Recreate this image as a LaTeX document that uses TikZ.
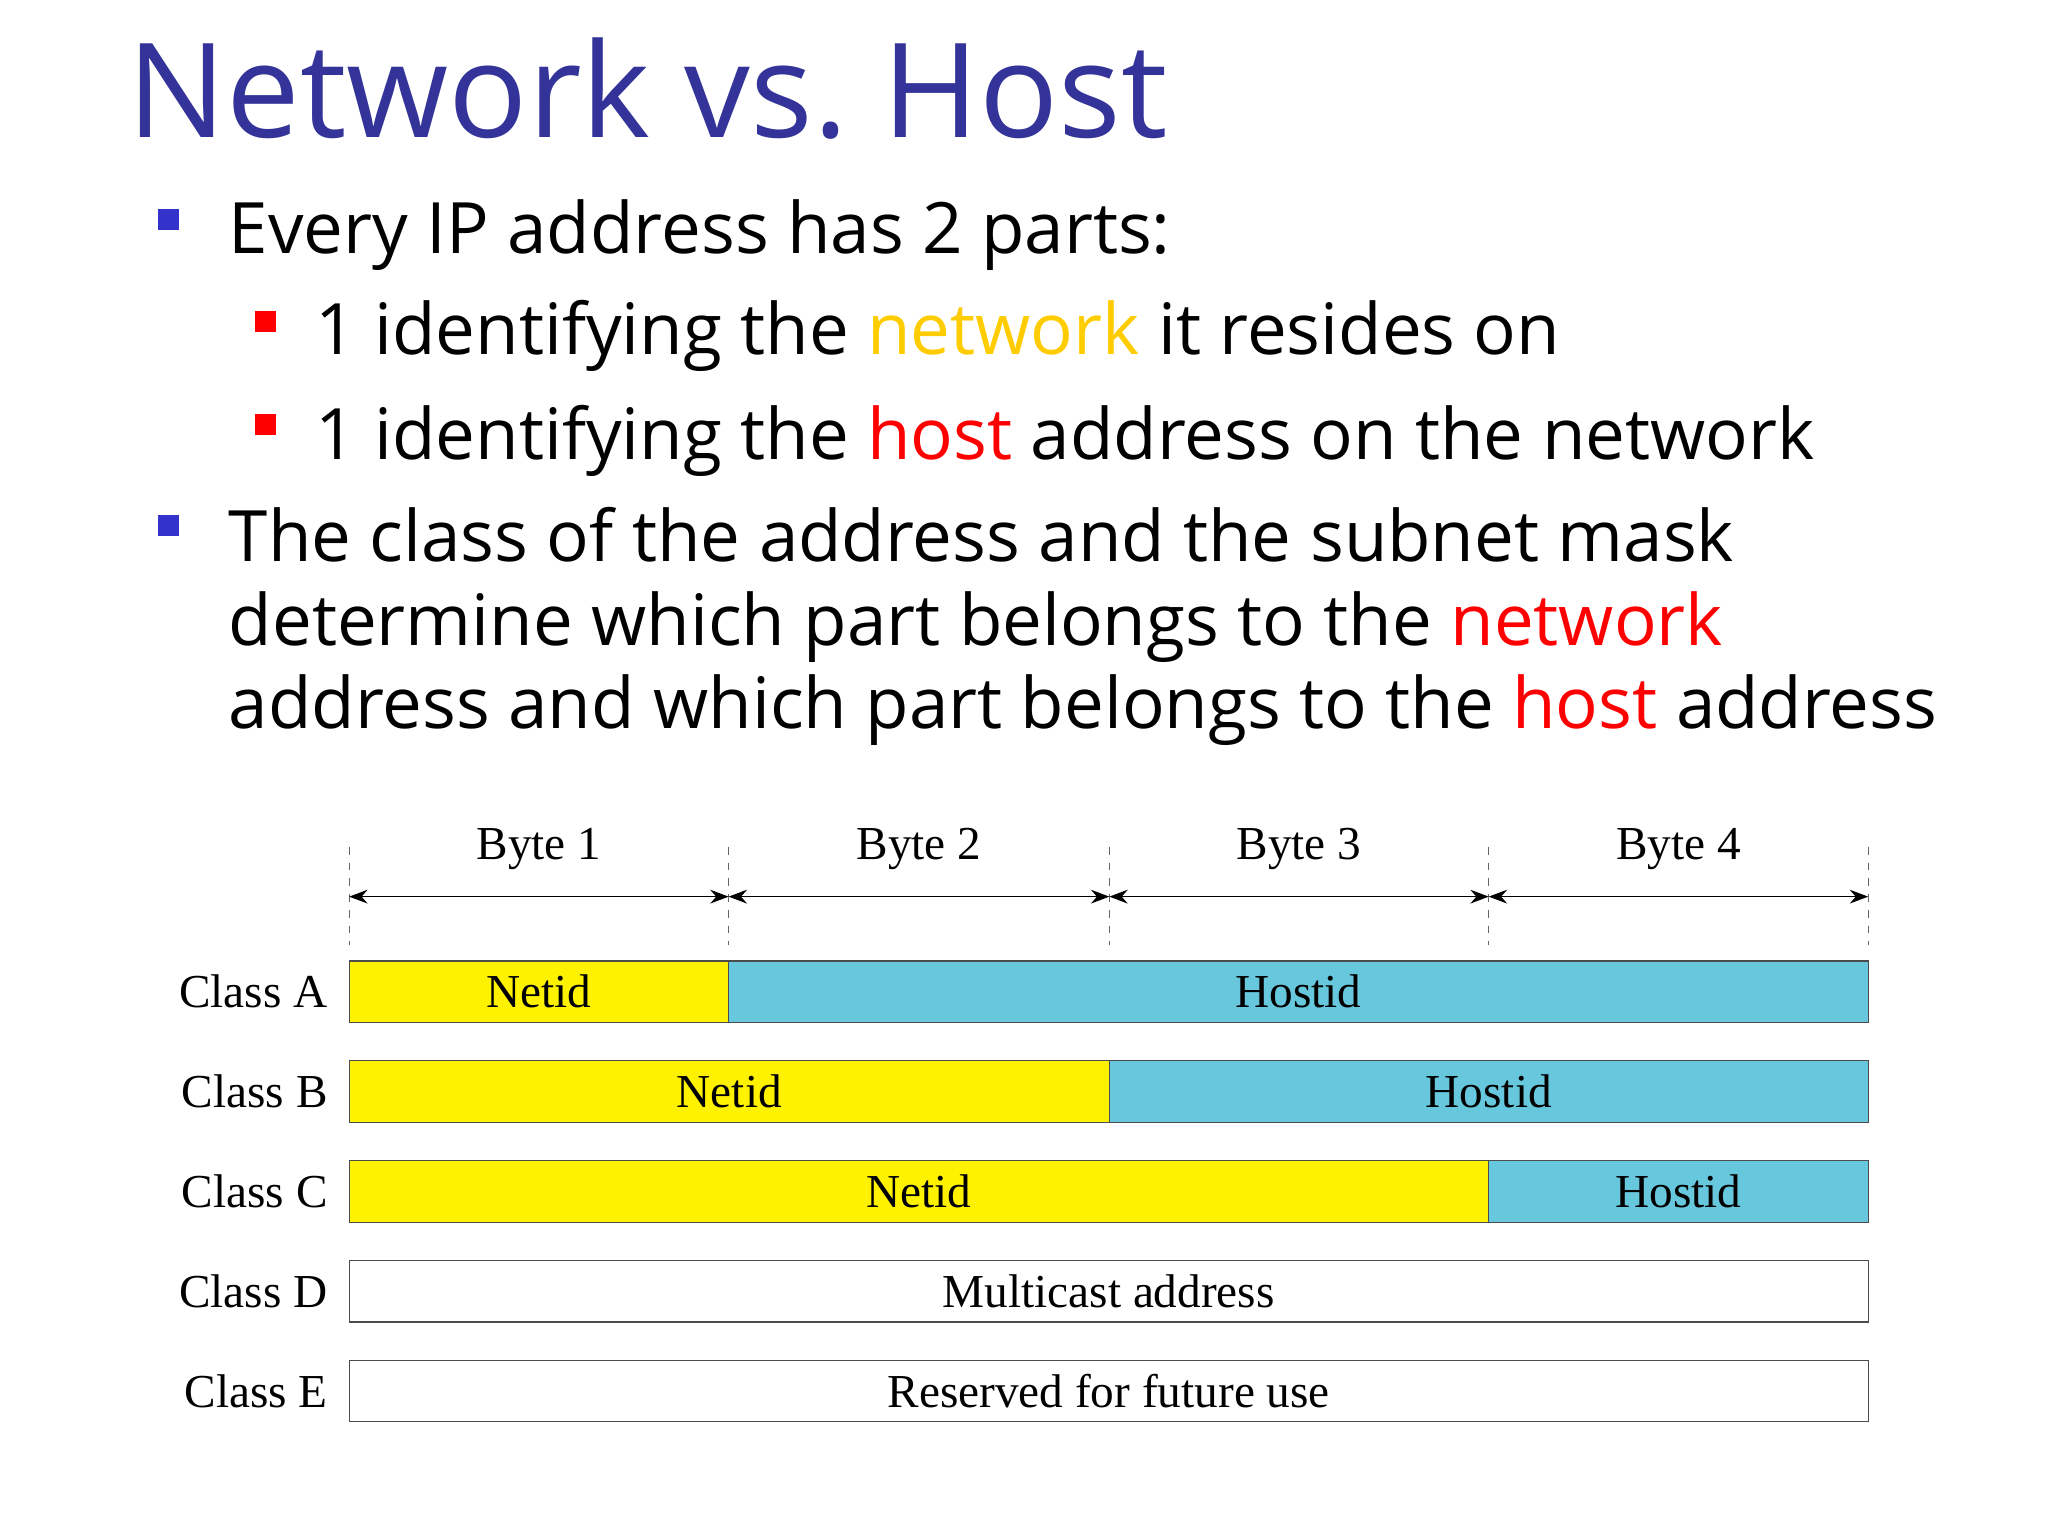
\documentclass[tikz,border=0pt]{standalone}
\usepackage{fontspec}
\setmainfont{Open Sans}
\newfontfamily\diagfont{Liberation Serif}
\usetikzlibrary{arrows.meta,positioning,calc}
\definecolor{titleblue}{RGB}{51,51,153}
\definecolor{bulletblue}{RGB}{51,51,204}
\definecolor{netyellow}{RGB}{255,204,0}
\definecolor{hostcyan}{RGB}{102,199,221}
\tikzset{
  line/.style={anchor=base west,inner sep=0,font=\fontsize{27}{32}\selectfont},
  bul/.style={fill=#1,minimum size=8pt,inner sep=0},
  seg/.style={draw=black!70,minimum height=23.5pt,inner sep=0,font=\diagfont\fontsize{18}{20}\selectfont},
  cls/.style={anchor=east,inner sep=0,font=\diagfont\fontsize{18}{20}\selectfont},
  byte/.style={inner sep=0,font=\diagfont\fontsize{18}{20}\selectfont},
}
\begin{document}
\begin{tikzpicture}[x=0.5pt,y=-0.5pt]
\useasboundingbox (0,0) rectangle (1560,1170);
% title and bullets
\node[anchor=base west,inner sep=0,text=titleblue,font=\fontsize{50}{56}\selectfont] (title) at (97,105) {Network vs.\ Host};
\node[bul=bulletblue] (b1) at (128,167) {};
\node[line] (t1) at (174,193) {Every IP address has 2 parts:};
\node[bul=red] (b11) at (202,245) {};
\node[line] (t11) at (240,270) {1 identifying the \textcolor{netyellow}{network} it resides on};
\node[bul=red] (b12) at (202,323) {};
\node[line] (t12) at (240,350) {1 identifying the \textcolor{red}{host} address on the network};
\node[bul=bulletblue] (b2) at (128,400) {};
\node[line] (t2a) at (174,428) {The class of the address and the subnet mask};
\node[line] (t2b) at (174,492) {determine which part belongs to the \textcolor{red}{network}};
\node[line] (t2c) at (174,555) {address and which part belongs to the \textcolor{red}{host} address};
% byte ruler
\foreach \i/\x in {0/266,1/555,2/845,3/1134,4/1423}{
  \coordinate (top\i) at (\x,645);
  \coordinate (bot\i) at (\x,720);
  \coordinate (ar\i) at (\x,683);
  \draw[dashed,black!60] (top\i) -- (bot\i);
}
\foreach \i/\j/\n in {0/1/1,1/2/2,2/3/3,3/4/4}{
  \draw[{Stealth[length=7pt]}-{Stealth[length=7pt]}] (ar\i) -- (ar\j);
  \node[byte] (byte\n) at ($(ar\i)!0.5!(ar\j)+(0,-36)$) {Byte \n};
}
% classes
\node[seg,fill=yellow,minimum width=144.5pt] (an) at (410.5,755.5) {Netid};
\node[seg,fill=hostcyan,minimum width=434pt] (ah) at (989,755.5) {Hostid};
\node[seg,fill=yellow,minimum width=289.5pt] (bn) at (555.5,831.5) {Netid};
\node[seg,fill=hostcyan,minimum width=289pt] (bh) at (1134,831.5) {Hostid};
\node[seg,fill=yellow,minimum width=434pt] (cn) at (700,907.5) {Netid};
\node[seg,fill=hostcyan,minimum width=144.5pt] (ch) at (1278.5,907.5) {Hostid};
\node[seg,minimum width=578.5pt] (dm) at (844.5,983.5) {Multicast address};
\node[seg,minimum width=578.5pt] (er) at (844.5,1059.5) {Reserved for future use};
\node[cls] (ca) at (250,755.5) {Class A};
\node[cls] (cb) at (250,831.5) {Class B};
\node[cls] (cc) at (250,907.5) {Class C};
\node[cls] (cd) at (250,983.5) {Class D};
\node[cls] (ce) at (250,1059.5) {Class E};
\end{tikzpicture}
\end{document}
